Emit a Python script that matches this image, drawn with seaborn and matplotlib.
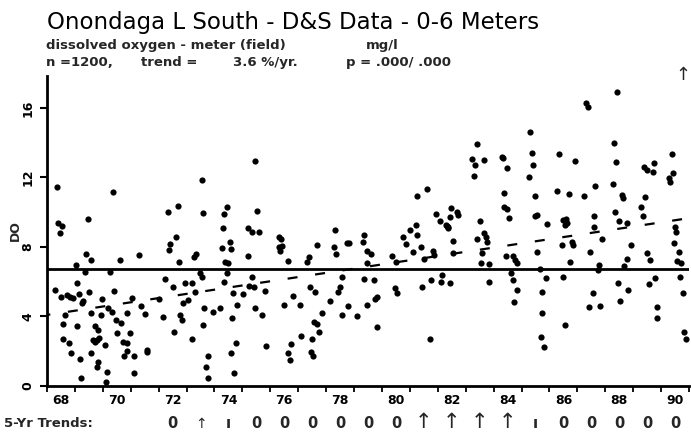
import matplotlib
matplotlib.use("Agg")
import matplotlib.pyplot as plt
import seaborn as sns
import pandas as pd
import numpy as np

# ---------------- text ----------------
title = "Onondaga L South - D&S Data - 0-6 Meters"
subtitle = "dissolved oxygen - meter (field)"
units = "mg/l"
stats_parts = ["n =1200,", "trend =", "3.6 %/yr.", "p = .000/ .000"]
y_label = "DO"
trend_row_label = "5-Yr Trends:"

# ---------------- data (decimal year, 19xx) ----------------
sample_year = [
    68.37, 70.35, 68.40, 68.55, 68.48, 69.48, 69.39, 69.57, 69.03, 70.60,
    71.30, 70.26, 69.36, 72.35, 72.68, 72.62, 72.37, 72.40, 72.74, 73.34,
    73.28, 73.54, 73.60, 73.48, 73.54, 74.30, 74.34, 74.44, 74.26, 74.56,
    74.58, 74.38, 74.50, 74.44, 75.20, 75.19,
    68.29, 68.49, 68.70, 68.82, 68.94, 68.65, 68.58, 69.09, 69.16, 69.28,
    69.25, 69.50, 69.06, 68.58, 68.80, 68.85, 69.18, 69.22, 69.58, 69.96,
    69.94, 69.72, 69.84, 69.87, 69.72, 69.80, 69.66, 70.08, 69.57, 69.84,
    69.78, 70.14, 70.11, 70.40, 70.20, 70.32, 70.47, 70.64, 70.50, 70.73,
    70.86, 70.76, 70.86, 71.10, 71.13, 71.04, 70.88, 70.97, 71.36, 71.51,
    71.57, 71.60, 72.23, 72.03, 72.15, 72.53, 72.55, 72.95, 73.04, 72.86,
    72.77, 72.83, 73.18, 73.21, 73.30, 73.64, 73.60, 73.93, 74.18, 73.75,
    73.70, 73.78, 74.68, 74.80, 74.64, 74.77, 74.59, 74.71, 74.34, 75.25,
    81.60, 81.27, 75.52, 75.34, 75.61, 76.30, 76.40, 76.30, 76.41, 76.35,
    76.65, 77.37, 77.33, 77.69, 78.32, 78.29, 78.36, 78.74, 78.83, 79.36,
    79.32, 79.46, 79.60, 79.46, 80.35, 80.51, 80.75, 80.87, 81.01, 81.21,
    81.25, 81.10, 81.40, 81.49, 81.82, 81.87, 81.94, 82.09, 82.33, 82.38,
    82.42, 82.47, 82.69, 82.56,
    75.34, 75.40, 75.01, 75.46, 75.69, 75.81, 75.85, 76.83, 76.49, 77.07,
    76.73, 76.65, 76.71, 77.43, 77.60, 77.10, 77.49, 77.46, 77.52, 77.76,
    77.55, 77.69, 77.84, 78.14, 78.41, 78.50, 78.56, 78.80, 79.10, 78.56,
    79.36, 79.70, 79.48, 79.81, 79.76, 79.84, 80.47, 80.53, 81.43, 81.73,
    81.75, 82.11, 82.14, 82.42,
    88.42, 87.31, 87.37, 85.31, 83.40, 83.22, 83.34, 83.64, 83.31, 84.29,
    84.33, 84.47, 85.37, 85.41, 85.25, 86.36, 86.92, 88.32, 88.38, 88.26,
    87.64, 86.27, 86.69, 87.25, 85.49, 89.38, 89.49, 89.70, 89.76, 90.39,
    90.41, 90.27, 90.33, 88.59, 88.63, 89.42, 89.29, 89.34, 84.36, 84.38,
    84.47, 84.56, 85.49, 85.57, 85.93, 86.50, 86.60, 86.56, 86.64, 87.61,
    88.36, 88.50, 88.78, 83.52, 82.71, 82.30, 82.35, 83.64, 83.74, 83.76,
    83.42, 87.58, 87.90, 86.44, 86.80, 86.83, 85.55, 84.45, 84.69, 84.77,
    84.83, 83.56, 83.85, 83.58, 86.75, 87.46, 88.92, 88.78, 89.49, 89.61,
    90.51, 90.55, 90.48, 90.65, 90.57, 90.71, 82.56, 87.76, 87.73, 88.66,
    85.67,
    83.82, 84.62, 84.69, 84.83, 84.74, 85.88, 85.75, 85.73, 85.69, 85.81,
    86.50, 86.54, 87.55, 87.43, 87.80, 88.45, 88.53, 88.83, 89.55, 89.79,
    89.87, 89.85, 90.66, 90.78, 90.83, 90.89,
    75.44,
]
do_mgl = [
    11.43, 11.15, 9.36, 9.20, 8.80, 9.61, 7.60, 7.25, 6.96, 7.25,
    7.54, 6.54, 6.58, 10.03, 10.36, 8.55, 7.83, 8.15, 7.11, 7.60,
    7.44, 11.86, 9.93, 6.48, 6.26, 9.07, 9.90, 10.32, 7.92, 8.30,
    7.88, 7.15, 7.06, 6.48, 9.07, 7.48,
    5.53, 5.10, 5.24, 5.14, 5.04, 4.09, 3.57, 5.91, 5.27, 4.91,
    4.79, 5.43, 3.47, 2.69, 2.46, 1.88, 1.53, 0.44, 4.22, 4.99,
    4.09, 3.47, 3.22, 2.74, 2.55, 2.65, 2.65, 2.36, 1.92, 1.40,
    1.11, 0.82, 0.25, 5.49, 4.47, 4.28, 3.80, 3.61, 3.03, 2.55,
    2.45, 1.73, 2.03, 1.73, 0.77, 5.04, 4.18, 3.03, 4.58, 4.14,
    2.07, 1.94, 6.14, 4.99, 3.95, 5.71, 3.13, 5.91, 4.95, 4.76,
    4.09, 3.80, 2.69, 5.91, 5.43, 4.47, 3.51, 4.28, 4.51, 1.73,
    1.11, 0.48, 5.33, 4.66, 3.93, 2.49, 1.92, 0.72, 6.00, 5.76,
    11.31, 10.93, 10.09, 8.88, 8.88, 8.55, 8.44, 8.01, 8.06, 7.79,
    7.19, 7.44, 7.15, 8.12, 8.98, 8.01, 7.60, 8.21, 8.21, 8.69,
    8.30, 7.79, 7.60, 7.06, 7.48, 7.15, 8.60, 8.17, 8.98, 9.27,
    8.69, 7.69, 7.98, 7.29, 7.79, 7.54, 9.90, 9.52, 9.21, 9.07,
    9.70, 10.22, 9.99, 8.36,
    6.26, 5.68, 5.29, 4.47, 4.09, 5.49, 2.30, 5.18, 4.66, 4.66,
    2.40, 1.88, 1.50, 5.71, 5.43, 2.89, 2.69, 1.97, 1.73, 3.13,
    3.70, 3.57, 4.18, 4.91, 5.43, 5.71, 4.09, 4.60, 4.03, 6.29,
    6.17, 6.10, 4.66, 5.14, 4.99, 3.42, 5.62, 5.37, 5.68, 2.69,
    6.10, 6.00, 6.39, 5.91,
    16.94, 16.31, 16.04, 14.64, 13.93, 13.05, 12.72, 13.01, 12.10, 13.20,
    13.10, 12.53, 13.39, 12.72, 12.01, 13.33, 12.95, 14.01, 12.91, 11.60,
    11.51, 11.22, 11.05, 10.94, 10.94, 12.63, 12.43, 12.33, 12.85, 13.35,
    12.24, 11.95, 11.76, 10.99, 10.80, 10.86, 10.32, 9.80, 11.09, 10.32,
    10.17, 9.69, 9.78, 9.84, 9.30, 9.55, 9.59, 9.27, 9.40, 9.80,
    10.03, 9.52, 9.40, 9.52, 9.84, 9.27, 9.17, 8.78, 8.60, 8.30,
    8.44, 9.17, 8.44, 8.12, 8.30, 8.12, 7.69, 7.50, 7.50, 7.25,
    7.10, 7.10, 7.02, 7.63, 7.15, 7.69, 8.12, 7.31, 7.63, 7.25,
    9.17, 8.88, 8.25, 7.69, 7.21, 7.06, 7.63, 6.96, 6.67, 6.91,
    6.73,
    5.97, 6.48, 6.10, 5.53, 4.81, 6.20, 5.43, 4.22, 2.80, 2.22,
    6.29, 3.51, 5.33, 4.53, 4.60, 5.91, 4.91, 5.53, 5.85, 6.20,
    4.53, 3.93, 6.29, 5.33, 3.13, 2.69,
    12.97,
]

mean_do = 6.73
trend_years = [68.0, 91.0]
trend_do = [4.09, 9.66]

y_ticks = [0, 4, 8, 12, 16]
x_label_years = [68, 70, 72, 74, 76, 78, 80, 82, 84, 86, 88, 90]
x_tick_labels = ["68", "70", "72", "74", "76", "78", "80", "82", "84", "86", "88", "90"]

trend_row_years = list(range(72, 91))
trend_row_codes = ["0", "weak_up", "bar", "0", "0", "0", "0", "0", "0",
                   "up", "up", "up", "up", "bar", "0", "0", "0", "0", "0"]
overall_trend = "up"

# ---------------- figure ----------------
sns.set_style("ticks")
plt.rcParams["font.family"] = ["DejaVu Sans"]

W, H = 691, 433
fig = plt.figure(figsize=(W / 100, H / 100), dpi=100)
fig.patch.set_facecolor("white")


def fx(px):
    return px / W


def fy(py):
    return 1 - py / H


ax = fig.add_axes([fx(47), fy(386), 642 / W, 310 / H])
ax.set_facecolor("white")

df = pd.DataFrame({"year": sample_year, "do": do_mgl})
sns.scatterplot(data=df, x="year", y="do", ax=ax, color="black", s=20,
                linewidth=0, legend=False, zorder=3, clip_on=False)
ax.axhline(mean_do, color="black", lw=2.0, zorder=2)
ax.plot(trend_years, trend_do, color="black", lw=1.6,
        linestyle=(3.0, (4.5, 8.0)), zorder=2)

ax.set_xlim(68, 91)
ax.set_ylim(0, 17.84)

# x ticks: year boundaries (major) and labels at mid-year (minor)
ax.set_xticks(np.arange(68, 92))
ax.set_xticklabels([])
ax.set_xticks([v + 0.5 for v in x_label_years], minor=True)
ax.set_xticklabels(x_tick_labels, minor=True)
ax.tick_params(axis="x", which="major", direction="out", length=4, width=1.3,
               color="black")
ax.tick_params(axis="x", which="minor", length=0, pad=6, labelsize=9,
               labelcolor="black")
for lab in ax.get_xticklabels(minor=True):
    lab.set_fontweight("bold")

ax.set_yticks(y_ticks)
ax.set_yticklabels([str(v) for v in y_ticks], rotation=90, va="center",
                   fontweight="bold", fontsize=9)
ax.tick_params(axis="y", direction="out", length=5, width=1.5, pad=4,
               color="black", labelcolor="black")

for side in ["top", "right"]:
    ax.spines[side].set_visible(False)
for side in ["left", "bottom"]:
    ax.spines[side].set_linewidth(2.0)
    ax.spines[side].set_color("black")
ax.set_xlabel("")
ax.set_ylabel("")

# ---------------- texts ----------------
fig.text(fx(47), fy(29), title, fontsize=16.5, fontweight="normal",
         ha="left", va="baseline", color="black")
fig.text(fx(46), fy(49), subtitle, fontsize=9.5, fontweight="bold",
         ha="left", va="baseline")
fig.text(fx(366), fy(49), units, fontsize=9.5, fontweight="bold",
         ha="left", va="baseline")
stats_x = [46, 141, 233, 346]
for sx, part in zip(stats_x, stats_parts):
    fig.text(fx(sx), fy(66), part, fontsize=9.5, fontweight="bold",
             ha="left", va="baseline")
fig.text(fx(15), fy(231), y_label, rotation=90, fontsize=9,
         fontweight="bold", ha="center", va="center")

glyphs = {"0": ("0", 10.5, "bold"), "up": ("↑", 15, "normal"),
          "weak_up": ("↑", 10, "normal"), "bar": ("ı", 11, "bold")}
g0, s0, w0 = glyphs[overall_trend]
fig.text(fx(690), fy(80), g0, fontsize=13, fontweight=w0,
         ha="right", va="baseline")

fig.text(fx(4), fy(427), trend_row_label, fontsize=9.5, fontweight="bold",
         ha="left", va="baseline")
trans = ax.get_xaxis_transform()
row_y = (386 - 428) / 310
for yr, code in zip(trend_row_years, trend_row_codes):
    g, size, weight = glyphs[code]
    ax.text(yr + 0.5, row_y, g, transform=trans, ha="center", va="baseline",
            fontsize=size, fontweight=weight, clip_on=False)

fig.savefig("out.png", dpi=100, facecolor="white")
